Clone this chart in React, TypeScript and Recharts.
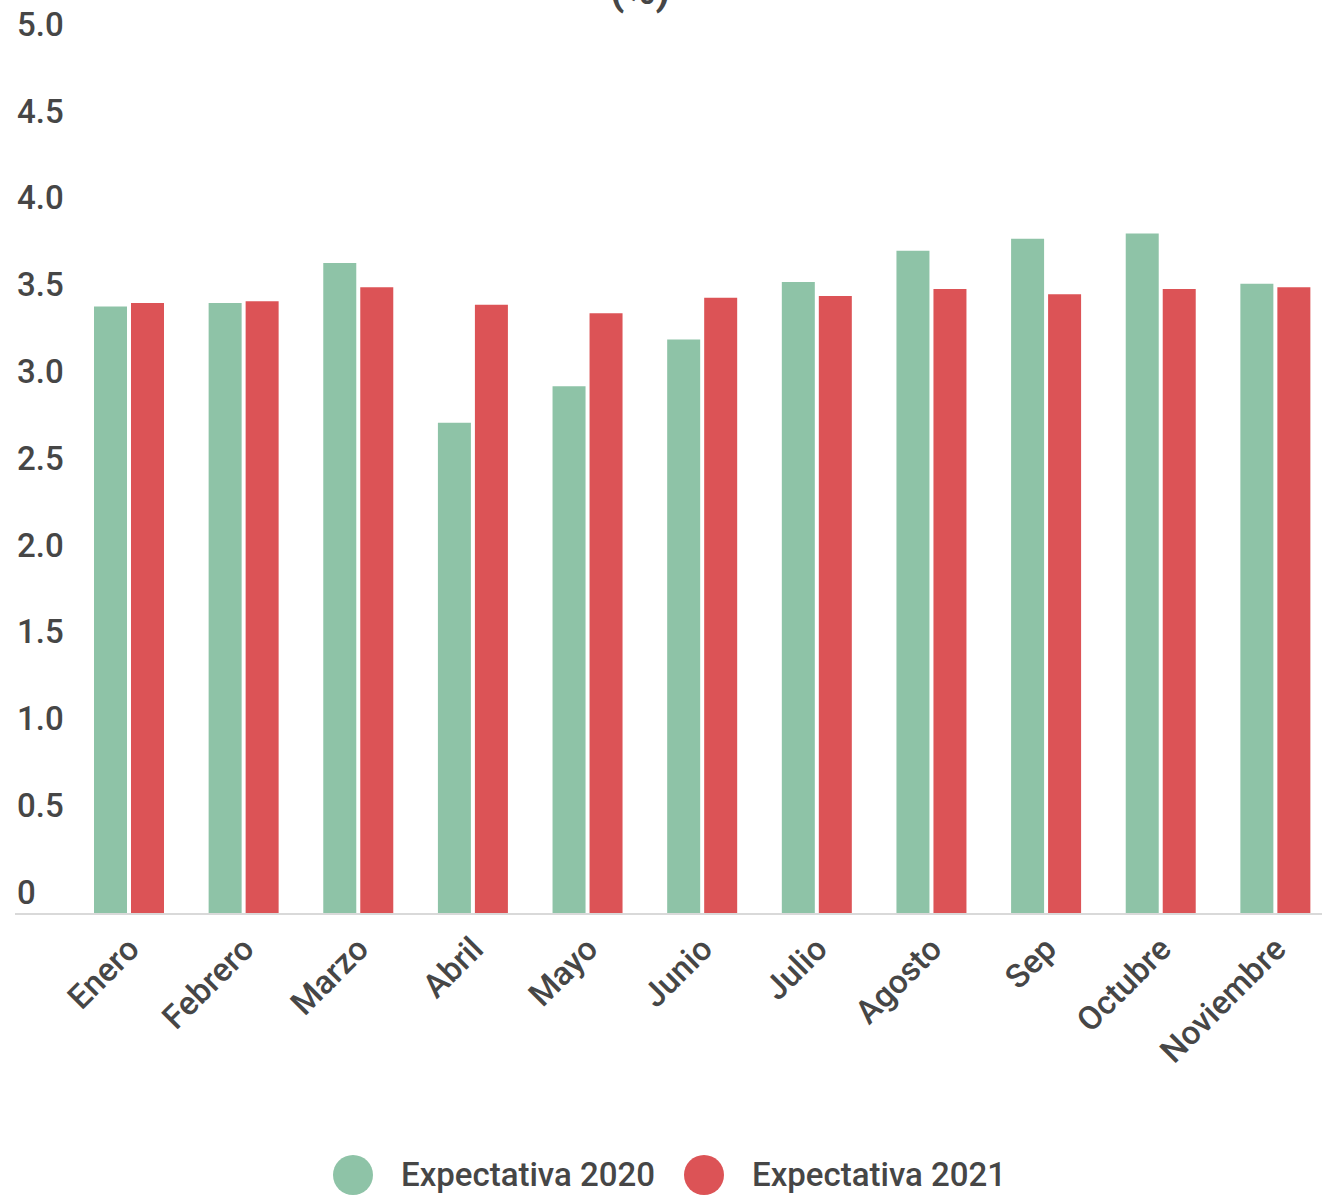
import { BarChart, Bar, XAxis, YAxis, Legend } from 'recharts';

const months = ['Enero', 'Febrero', 'Marzo', 'Abril', 'Mayo', 'Junio', 'Julio', 'Agosto', 'Sep', 'Octubre', 'Noviembre'];
const expectativa2020 = [3.5, 3.52, 3.75, 2.83, 3.04, 3.31, 3.64, 3.82, 3.89, 3.92, 3.63];
const expectativa2021 = [3.52, 3.53, 3.61, 3.51, 3.46, 3.55, 3.56, 3.6, 3.57, 3.6, 3.61];
const yTicks = [0, 0.5, 1, 1.5, 2, 2.5, 3, 3.5, 4, 4.5, 5];

const GREEN = '#8ec3a7';
const RED = '#dc5356';
const TEXT = '#464646';
const FONT = 'Roboto, sans-serif';

const data = months.map((m, i) => ({
  month: m,
  e2020: expectativa2020[i],
  e2021: expectativa2021[i],
}));

const fmtY = (v: number) => (v === 0 ? '0' : v.toFixed(1));

function YTick({ y, payload }: any) {
  return (
    <text x={17} y={y - 22} dy="0.36em" fontSize={33} fontWeight={500} fill={TEXT} fontFamily={FONT} textAnchor="start">
      {fmtY(payload.value)}
    </text>
  );
}

function XTick({ x, payload }: any) {
  const ax = x + 12;
  const ay = 951;
  return (
    <text
      x={ax}
      y={ay}
      fontSize={33}
      fontWeight={500}
      fill={TEXT}
      fontFamily={FONT}
      textAnchor="end"
      transform={`rotate(-45, ${ax}, ${ay})`}
    >
      {payload.value}
    </text>
  );
}

function LegendContent() {
  const items = [
    { label: 'Expectativa 2020', color: GREEN },
    { label: 'Expectativa 2021', color: RED },
  ];
  return (
    <div style={{ display: 'flex', alignItems: 'center', fontFamily: FONT, paddingLeft: 333 }}>
      {items.map((it, i) => (
        <div key={it.label} style={{ display: 'flex', alignItems: 'center', marginLeft: i ? 29 : 0 }}>
          <span style={{ width: 40, height: 40, borderRadius: '50%', background: it.color, display: 'inline-block' }} />
          <span style={{ fontSize: 33, fontWeight: 500, color: TEXT, marginLeft: 28, lineHeight: '40px' }}>{it.label}</span>
        </div>
      ))}
    </div>
  );
}

export default function App() {
  return (
    <div style={{ position: 'fixed', left: 0, top: 0, width: 1322, height: 1195, overflow: 'hidden', background: '#fff' }}>
      <svg width={1322} height={20} style={{ position: 'absolute', left: 0, top: 0 }}>
        <text x={640} y={4} textAnchor="middle" fontSize={42} fontWeight={700} fill={TEXT} fontFamily={FONT}>
          (%)
        </text>
      </svg>
      <div style={{ position: 'absolute', left: 0, top: 0 }}>
        <BarChart
          width={1345}
          height={1195}
          data={data}
          margin={{ top: 46, right: 12, left: 0, bottom: 0 }}
          barGap={4}
          barSize={33}
        >
          <XAxis
            dataKey="month"
            height={241}
            padding={{ left: 57, right: 0 }}
            axisLine={{ stroke: '#d9d9d9', strokeWidth: 2 }}
            tickLine={false}
            tick={<XTick />}
            interval={0}
          />
          <YAxis
            width={15}
            domain={[0, 5]}
            ticks={yTicks}
            axisLine={false}
            tickLine={false}
            tick={<YTick />}
          />
          <Legend
            verticalAlign="bottom"
            content={<LegendContent />}
            wrapperStyle={{ position: 'absolute', top: 1155, left: 0, width: 1322, bottom: 'auto' }}
          />
          <Bar dataKey="e2020" name="Expectativa 2020" fill={GREEN} isAnimationActive={false} />
          <Bar dataKey="e2021" name="Expectativa 2021" fill={RED} isAnimationActive={false} />
        </BarChart>
      </div>
    </div>
  );
}
